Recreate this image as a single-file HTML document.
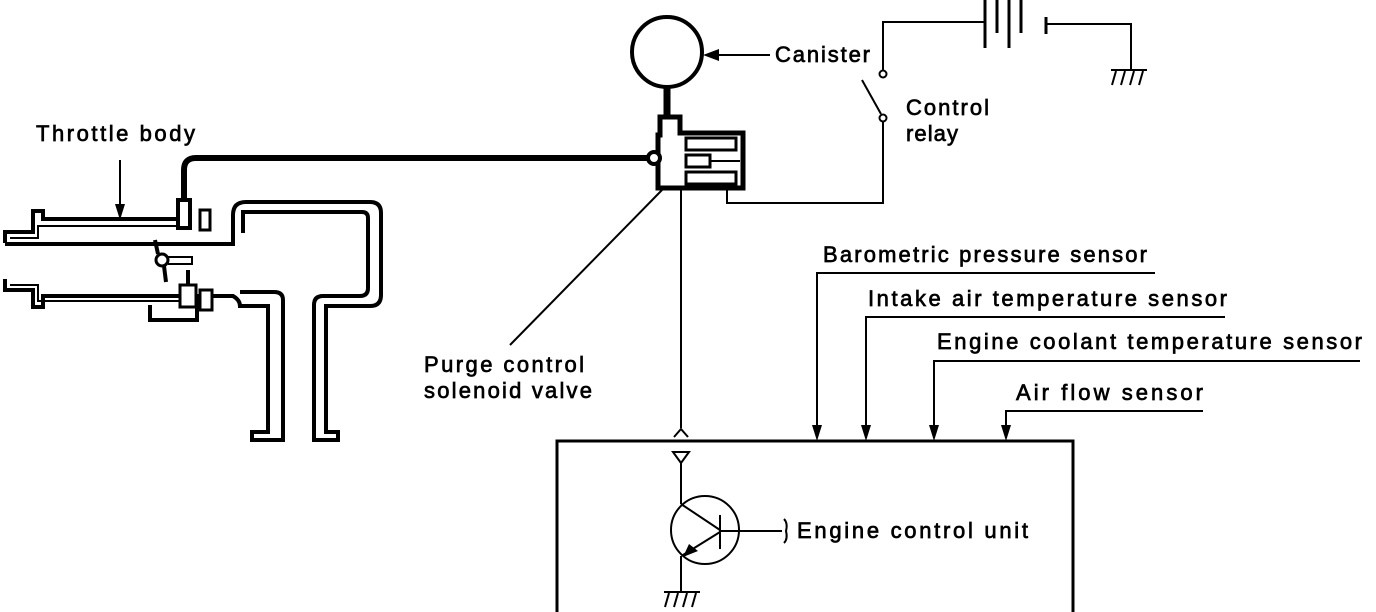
<!DOCTYPE html>
<html><head><meta charset="utf-8"><style>
html,body{margin:0;padding:0;background:#fff;}
svg{display:block;}
text{font-family:"Liberation Sans",sans-serif;font-size:22px;fill:#000;stroke:#000;stroke-width:0.7;}
</style></head><body>
<svg width="1376" height="612" viewBox="0 0 1376 612" xmlns="http://www.w3.org/2000/svg">
<g stroke="#000" fill="none" stroke-width="3">
<!-- Throttle body upper tube -->
<path d="M5,243 L5,232 L33,232 L33,211 L43,211 L43,219 L178,219" stroke-width="4"/>
<path d="M10,238 L38,238 L38,226 L178,226" stroke-width="2"/>
<path d="M5,244 L233,244 L233,215 Q233,202 246,202 L370,202 Q381,202 381,213 L381,295 Q381,306 370,306 L326,306 L326,432 L338,432 L338,440 L314,440 L314,305 Q314,296 323,296 L360,296 Q368,296 368,288 L368,218 Q368,212 362,212 L243,212 L243,233" stroke-width="4"/>
<rect x="178" y="200" width="12" height="28" fill="#fff" stroke-width="4"/>
<rect x="200" y="210" width="10" height="20" fill="#fff" stroke-width="3"/>
<!-- lower tube -->
<path d="M5,279 L5,290 L33,290 L33,307 L43,307 L43,296 L180,296" stroke-width="4"/>
<path d="M10,285 L38,285 L38,301 L180,301" stroke-width="2"/>
<path d="M150,305 L150,320 L197,320 L197,296 L233,296 Q240,300 240,306 L268,306 L268,432 L252,432 L252,440 L283,440 L283,300 Q283,292 274,292 L240,292" stroke-width="4"/>
<rect x="200" y="290" width="12" height="20" fill="#fff" stroke-width="3"/>
<rect x="180" y="285" width="16" height="22" fill="#fff" stroke-width="3"/>
<line x1="188" y1="284" x2="188" y2="270" stroke-width="4"/>
<!-- throttle valve -->
<circle cx="162" cy="260" r="6" stroke-width="3"/>
<path d="M168,257 L192,257 L192,264 L168,264" stroke-width="2"/>
<path d="M158,254 L155,240 M164,266 L166,282" stroke-width="4"/>
<!-- hose to valve -->
<path d="M184,200 L184,170 Q184,158 196,158 L650,158" stroke-width="6"/>
<!-- Throttle body arrow -->
<line x1="120" y1="160" x2="120" y2="208" stroke-width="2"/>
<!-- canister -->
<circle cx="667" cy="52" r="35" stroke-width="4"/>
<line x1="667" y1="88" x2="667" y2="118" stroke-width="7"/>
<line x1="770" y1="55" x2="712" y2="55" stroke-width="2"/>
<!-- solenoid valve -->
<path d="M660,117 L680,117 L680,133 L743,133 L743,188 L658,188 L658,135 L660,135 Z" stroke-width="5" fill="#fff"/>
<rect x="686" y="138" width="50" height="12" stroke-width="3"/>
<rect x="686" y="155" width="24" height="12" stroke-width="3"/>
<rect x="686" y="172" width="50" height="12" stroke-width="3"/>
<circle cx="654" cy="158" r="6" stroke-width="4" fill="#fff"/>
<line x1="710" y1="161" x2="740" y2="161" stroke-width="2"/>
<!-- leader line purge -->
<line x1="510" y1="345" x2="662" y2="190" stroke-width="2"/>
<!-- wire down to ECU -->
<line x1="681" y1="188" x2="681" y2="428" stroke-width="2"/>
<path d="M674,437 L681,429 L688,437" stroke-width="2"/>
<!-- relay wire -->
<path d="M727,188 L727,203 L883,203 L883,121" stroke-width="2"/>
<circle cx="883" cy="118" r="3.5" stroke-width="2" fill="#fff"/>
<circle cx="883" cy="74" r="3.5" stroke-width="2" fill="#fff"/>
<line x1="862" y1="80" x2="881" y2="114" stroke-width="2"/>
<path d="M883,70 L883,22 L985,22" stroke-width="2"/>
<line x1="985" y1="0" x2="985" y2="48" stroke-width="3"/>
<line x1="997" y1="0" x2="997" y2="33" stroke-width="3"/>
<line x1="1009" y1="0" x2="1009" y2="48" stroke-width="3"/>
<line x1="1021" y1="0" x2="1021" y2="33" stroke-width="3"/>
<line x1="1046" y1="17" x2="1046" y2="34" stroke-width="3"/>
<path d="M1046,24 L1131,24 L1131,70" stroke-width="2"/>
<path d="M1111,70 L1147,70 M1116,71 L1112,85 M1125,71 L1121,85 M1134,71 L1130,85 M1143,71 L1139,85" stroke-width="2"/>
<!-- ECU box -->
<path d="M557,612 L557,441 L1073,441 L1073,612" stroke-width="3"/>
<!-- sensor leaders -->
<path d="M1155,273 L817,273 L817,428" stroke-width="2"/>
<path d="M1225,317 L866,317 L866,428" stroke-width="2"/>
<path d="M1360,361 L934,361 L934,428" stroke-width="2"/>
<path d="M1203,411 L1006,411 L1006,428" stroke-width="2"/>
<!-- transistor -->
<path d="M673,452 L689,452 L681,463 Z" stroke-width="2"/>
<line x1="681" y1="463" x2="681" y2="504" stroke-width="2"/>
<circle cx="705" cy="530" r="34" stroke-width="2"/>
<line x1="681" y1="504" x2="720" y2="530" stroke-width="2"/>
<line x1="720" y1="515" x2="720" y2="549" stroke-width="2"/>
<line x1="720" y1="532" x2="683" y2="555" stroke-width="2"/>
<line x1="681" y1="556" x2="681" y2="592" stroke-width="2"/>
<path d="M664,592 L700,592 M669,593 L665,607 M678,593 L674,607 M687,593 L683,607 M696,593 L692,607" stroke-width="2"/>
<line x1="720" y1="531" x2="782" y2="531" stroke-width="2"/>
<path d="M784,519 Q788,523 786,531 Q788,539 784,543" stroke-width="2"/>
</g>
<g fill="#000" stroke="none">
<path d="M115,204 L125,204 L120,220 Z"/>
<path d="M703,55 L719,49 L719,61 Z"/>
<path d="M683,557 L689,544 L698,551 Z"/>
<path d="M812,425 L822,425 L817,441 Z"/>
<path d="M861,425 L871,425 L866,441 Z"/>
<path d="M929,425 L939,425 L934,441 Z"/>
<path d="M1001,425 L1011,425 L1006,441 Z"/>
</g>
<text x="36" y="141" textLength="159">Throttle body</text>
<text x="775" y="62" textLength="95">Canister</text>
<text x="906" y="115" textLength="83">Control</text>
<text x="906" y="141" textLength="52">relay</text>
<text x="823" y="262" textLength="324">Barometric pressure sensor</text>
<text x="868" y="306" textLength="359">Intake air temperature sensor</text>
<text x="937" y="349" textLength="425">Engine coolant temperature sensor</text>
<text x="1016" y="400" textLength="187">Air flow sensor</text>
<text x="424" y="372" textLength="160">Purge control</text>
<text x="424" y="398" textLength="168">solenoid valve</text>
<text x="797" y="538" textLength="231">Engine control unit</text>
</svg>
</body></html>
